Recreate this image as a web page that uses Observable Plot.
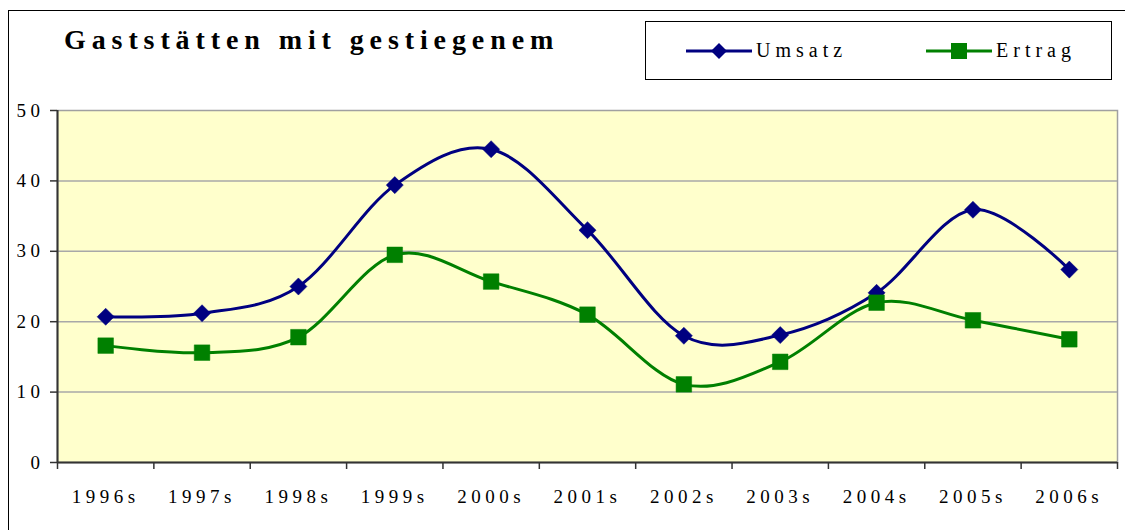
<!DOCTYPE html>
<html>
<head>
<meta charset="utf-8">
<script src="https://cdn.jsdelivr.net/npm/d3@7"></script>
<script src="https://cdn.jsdelivr.net/npm/@observablehq/plot@0.6"></script>
<style>
  html, body { margin: 0; padding: 0; background: #fff; }
  #wrap { position: relative; width: 1125px; height: 530px; overflow: hidden; font-family: "Liberation Serif", "DejaVu Serif", serif; }
  #frame { position: absolute; left: 8px; top: 10px; width: 1130px; height: 540px; border: 1px solid #000; box-sizing: border-box; }
  #title { position: absolute; left: 64px; top: 25.5px; font-size: 28px; font-weight: bold; letter-spacing: 5.9px; white-space: nowrap; line-height: 1; }
  #legend { position: absolute; left: 645px; top: 21px; width: 467px; height: 59px; border: 1px solid #000; box-sizing: border-box; background: #fff; }
  .item { position: absolute; top: 0; height: 57px; display: flex; align-items: center; font-size: 20px; letter-spacing: 5px; }
  .item svg { margin-right: 4px; }
  #chart { position: absolute; left: 0; top: 0; }
</style>
</head>
<body>
<div id="wrap">
  <div id="frame"></div>
  <div id="chart"></div>
  <div id="title"></div>
  <div id="legend"></div>
</div>
<script>
// ---- data ----
const titleText = "Gaststätten mit gestiegenem";
const years = ["1996s","1997s","1998s","1999s","2000s","2001s","2002s","2003s","2004s","2005s","2006s"];
const seriesNames = ["Umsatz", "Ertrag"];
const umsatz = [20.7, 21.2, 25.0, 39.4, 44.5, 33.0, 18.0, 18.1, 24.1, 35.9, 27.4];
const ertrag = [16.6, 15.6, 17.8, 29.5, 25.7, 21.0, 11.1, 14.3, 22.7, 20.2, 17.5];
const yTicks = [0, 10, 20, 30, 40, 50];

const colors = { Umsatz: "#000080", Ertrag: "#008000" };

const rows = years.flatMap((yr, i) => [
  { i, year: yr, series: "Umsatz", v: umsatz[i] },
  { i, year: yr, series: "Ertrag", v: ertrag[i] }
]);
const bounds = d3.range(years.length + 1).map(k => k - 0.5);

const chart = Plot.plot({
  width: 1125,
  height: 530,
  marginLeft: 57,
  marginRight: 8,
  marginTop: 110,
  marginBottom: 68,
  x: { type: "linear", domain: [-0.5, years.length - 0.5], label: null },
  y: { domain: [0, 50], label: null },
  style: { fontFamily: "'Liberation Serif', 'DejaVu Serif', serif", fontSize: "19px", letterSpacing: "4.5px", color: "#000", background: "transparent", overflow: "visible" },
  marks: [
    Plot.frame({ fill: "#FFFFCC", stroke: "#a0a0a0", strokeWidth: 1.5 }),
    Plot.gridY([10, 20, 30, 40], { stroke: "#a8a8a8", strokeOpacity: 1, strokeWidth: 1.5 }),
    Plot.axisY(yTicks, { tickSize: 7, tickPadding: 6, stroke: "#333", strokeWidth: 1.5, label: null }),
    Plot.axisX(years.map((d, i) => i), { tickSize: 0, tickPadding: 27, tickFormat: i => years[i], label: null }),
    Plot.axisX(bounds, { tickSize: 7, tickFormat: () => "", stroke: "#333", strokeWidth: 1.5, label: null }),
    Plot.ruleY([0], { stroke: "#333", strokeWidth: 2 }),
    Plot.ruleX([-0.5], { stroke: "#333", strokeWidth: 2 }),
    Plot.line(rows, { x: "i", y: "v", z: "series", stroke: d => colors[d.series], strokeWidth: 3, curve: "cardinal", tension: 0 }),
    Plot.dot(rows.filter(d => d.series === "Umsatz"), { x: "i", y: "v", symbol: "diamond2", r: 7.7, fill: colors.Umsatz, stroke: colors.Umsatz, strokeWidth: 0.5 }),
    Plot.dot(rows.filter(d => d.series === "Ertrag"), { x: "i", y: "v", symbol: "square", r: 8.8, fill: colors.Ertrag, stroke: colors.Ertrag, strokeWidth: 0.5 })
  ]
});
document.getElementById("chart").appendChild(chart);

document.getElementById("title").textContent = titleText;

// legend
const legend = document.getElementById("legend");
const legendPos = { Umsatz: 40, Ertrag: 280 };
seriesNames.forEach(name => {
  const item = document.createElement("div");
  item.className = "item";
  item.style.left = legendPos[name] + "px";
  const c = colors[name];
  const marker = name === "Umsatz"
    ? `<polygon points="33,-8 41,0 33,8 25,0" fill="${c}"/>`
    : `<rect x="25" y="-8" width="16" height="16" fill="${c}"/>`;
  item.innerHTML = `<svg width="66" height="20" viewBox="0 -10 66 20"><line x1="0" x2="66" y1="0" y2="0" stroke="${c}" stroke-width="3"/>${marker}</svg><span>${name}</span>`;
  legend.appendChild(item);
});
</script>
</body>
</html>
